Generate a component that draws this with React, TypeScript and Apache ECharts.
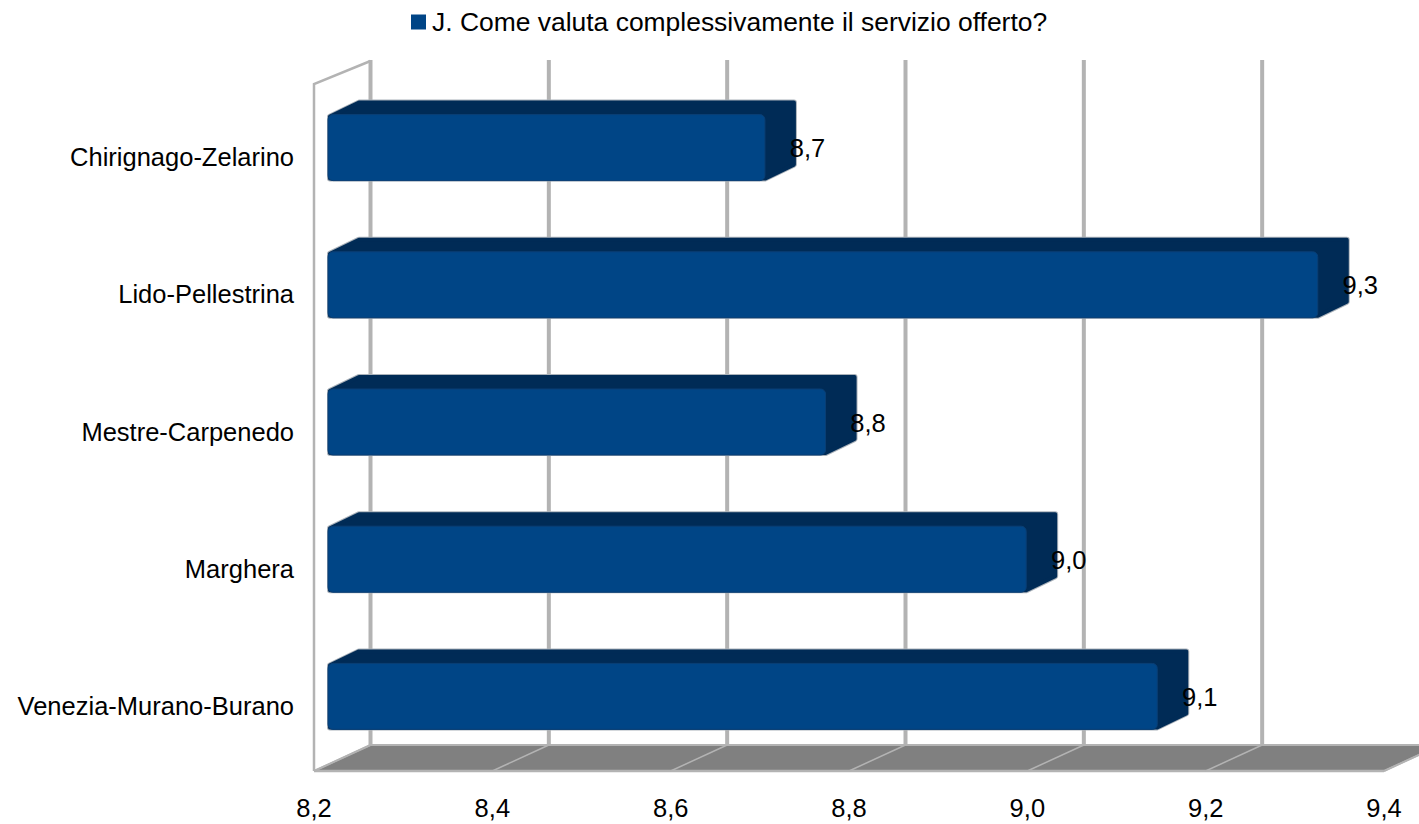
import React, { useEffect, useRef } from "react";
import * as echarts from "echarts";

const seriesName = "J. Come valuta complessivamente il servizio offerto?";
const categories = ["Chirignago-Zelarino", "Lido-Pellestrina", "Mestre-Carpenedo", "Marghera", "Venezia-Murano-Burano"];
const values = [8.69, 9.31, 8.758, 8.983, 9.13];
const ticks = [8.2, 8.4, 8.6, 8.8, 9.0, 9.2, 9.4];

const BLUE = "#004586";
const DARK = "#002b56";
const GRID = "#b3b3b3";
const FLOOR = "#808080";
const FONT = "Liberation Sans";
const DX = 56.5, DY = 26;
const BAR_DX = 31, BAR_DY = 14, OFFX = 14, OFFY = 6.5, BAR_H = 66;

const comma = (v: number) => v.toFixed(1).replace(".", ",");

export default function App() {
  const ref = useRef<HTMLDivElement>(null);
  useEffect(() => {
    document.body.style.margin = "0";
    document.body.style.overflow = "hidden";
    const chart = echarts.init(ref.current!, undefined, { renderer: "svg" });
    chart.setOption({
      animation: false,
      backgroundColor: "#ffffff",
      legend: {
        data: [{ name: seriesName, icon: "rect", itemStyle: { color: BLUE } }],
        left: 406,
        top: 4,
        itemWidth: 15,
        itemHeight: 15,
        itemGap: 6,
        textStyle: { fontFamily: FONT, fontSize: 26.45, color: "#000", padding: [0, 0, 4, 1] },
      },
      grid: { left: 314, right: 35, top: 85, bottom: 53 },
      xAxis: {
        type: "value",
        min: 8.2,
        max: 9.4,
        interval: 0.2,
        axisLine: { show: false },
        axisTick: { show: false },
        splitLine: { show: false },
        axisLabel: { fontFamily: FONT, fontSize: 25.5, color: "#000", margin: 24, formatter: (v: number) => comma(v) },
      },
      yAxis: {
        type: "category",
        inverse: true,
        data: categories,
        axisLine: { show: false },
        axisTick: { show: false },
        axisLabel: { fontFamily: FONT, fontSize: 25.5, color: "#000", margin: 20, verticalAlign: "top", lineHeight: 7 },
      },
      series: [
        {
          type: "custom",
          name: "frame",
          silent: true,
          clip: false,
          z: 1,
          data: [0],
          encode: { x: -1, y: -1 },
          renderItem: (params: any, api: any) => {
            const cs = params.coordSys;
            const top = cs.y, bottom = cs.y + cs.height, l = cs.x, r = cs.x + cs.width;
            const children: any[] = [
              { type: "polygon", shape: { points: [[l, bottom], [r, bottom], [r + DX, bottom - DY], [l + DX, bottom - DY]] }, style: { fill: FLOOR, stroke: "none" } },
              { type: "polyline", shape: { points: [[l, bottom], [l, top - 1], [l + DX, top - 24]] }, style: { fill: "none", stroke: GRID, lineWidth: 2.5 } },
              { type: "line", shape: { x1: l, y1: bottom, x2: r, y2: bottom }, style: { stroke: GRID, lineWidth: 2.5 } },
              { type: "line", shape: { x1: l + DX, y1: bottom - DY, x2: r + DX, y2: bottom - DY }, style: { stroke: GRID, lineWidth: 2 } },
              { type: "line", shape: { x1: r, y1: bottom, x2: r + DX, y2: bottom - DY }, style: { stroke: GRID, lineWidth: 2 } },
              { type: "line", shape: { x1: l, y1: bottom, x2: l + DX, y2: bottom - DY }, style: { stroke: GRID, lineWidth: 2 } },
            ];
            ticks.forEach((t) => {
              const x = api.coord([t, 0])[0];
              children.push({ type: "line", shape: { x1: x, y1: bottom, x2: x + DX, y2: bottom - DY }, style: { stroke: GRID, lineWidth: 1.5 } });
              children.push({ type: "line", shape: { x1: x + DX, y1: bottom - DY, x2: x + DX, y2: top - 25 }, style: { stroke: GRID, lineWidth: 4 } });
            });
            return { type: "group", children };
          },
        },
        {
          type: "custom",
          name: seriesName,
          clip: false,
          z: 2,
          itemStyle: { color: BLUE },
          data: values.map((v, i) => [v, i]),
          encode: { x: 0, y: 1 },
          renderItem: (params: any, api: any) => {
            const p = api.coord([api.value(0), api.value(1)]);
            const base = api.coord([8.2, api.value(1)]);
            const x0 = base[0] + OFFX, x1 = p[0] + OFFX;
            const y0 = p[1] - OFFY - BAR_H / 2 + 0.5, y1 = y0 + BAR_H;
            const i = 2;
            const outline = [[x0 + i, y0 + i], [x0 + BAR_DX, y0 - BAR_DY + i], [x1 + BAR_DX - i, y0 - BAR_DY + i], [x1 + BAR_DX - i, y1 - BAR_DY - i], [x1, y1 - i], [x0 + i, y1 - i]];
            return {
              type: "group",
              children: [
                { type: "polygon", shape: { points: outline }, style: { fill: DARK, stroke: "#aab2ba", lineWidth: 6, lineJoin: "round" } },
                { type: "polygon", shape: { points: outline }, style: { fill: DARK, stroke: DARK, lineWidth: 4, lineJoin: "round" } },
                {
                  type: "rect",
                  shape: { x: x0, y: y0, width: x1 - x0, height: BAR_H, r: 5 },
                  style: { fill: BLUE, stroke: "#0a3f75", lineWidth: 1 },
                },
              ],
            };
          },
        },
        {
          type: "custom",
          name: "labels",
          silent: true,
          clip: false,
          z: 3,
          data: values.map((v, i) => [v, i]),
          encode: { x: 0, y: 1 },
          renderItem: (params: any, api: any) => {
            const v = api.value(0);
            const p = api.coord([v, api.value(1)]);
            return {
              type: "text",
              x: p[0] + OFFX + 42.5,
              y: p[1] - OFFY + 1,
              style: { text: comma(v), fontFamily: FONT, fontSize: 25.5, fill: "#000", align: "center", verticalAlign: "middle" },
            };
          },
        },
      ],
    });
    return () => chart.dispose();
  }, []);
  return <div ref={ref} style={{ position: "absolute", left: 0, top: 0, width: 1419, height: 824 }} />;
}
